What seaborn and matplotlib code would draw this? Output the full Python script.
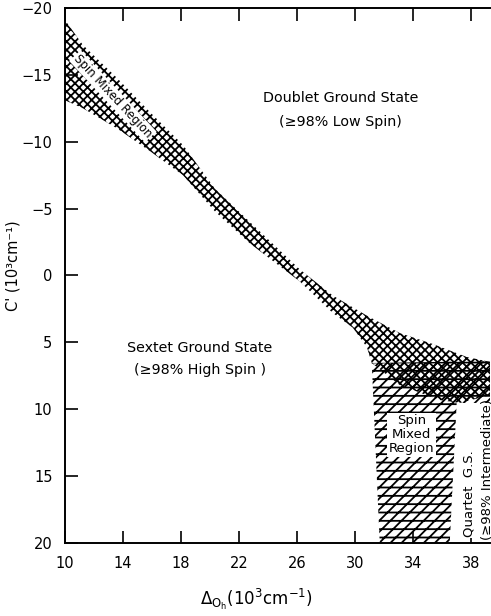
import matplotlib
matplotlib.use("Agg")
import matplotlib.pyplot as plt
import seaborn as sns
import numpy as np

# ---- data ----
x_ticks = [10, 14, 18, 22, 26, 30, 34, 38]
y_ticks = [-20, -15, -10, -5, 0, 5, 10, 15, 20]

# spin-mixed band (Doublet/Sextet crossover), upper edge (doublet side)
band_upper_x = [10.0, 11.24, 13.59, 15.86, 18.14, 20.34, 22.76, 26.21, 28.48, 30.83, 33.10, 35.38, 37.72, 39.38]
band_upper_y = [-19.1, -17.23, -14.77, -12.22, -9.76, -6.5, -4.0, -0.45, 1.5, 3.0, 4.30, 5.12, 6.09, 6.47]
# lower edge (sextet side)
band_lower_x = [10.0, 11.24, 13.59, 15.86, 18.14, 20.34, 22.76, 26.21, 28.48, 29.86, 30.83, 31.17, 33.10, 35.86, 37.24, 39.38]
band_lower_y = [-13.1, -12.5, -11.0, -9.3, -7.5, -4.8, -2.4, 0.45, 2.8, 3.9, 5.35, 6.54, 8.19, 9.31, 9.53, 8.94]

# quartet / sextet spin-mixed region (lower right)
strip_x = [31.17, 39.38, 39.38, 37.03, 36.55, 31.72]
strip_y = [6.54, 6.40, 9.53, 9.53, 20.0, 20.0]

xlim = (10, 39.33)
ylim = (20, -20)

# ---- style ----
sns.set_style("ticks")
plt.rcParams["font.family"] = ["DejaVu Sans"]
plt.rcParams["hatch.linewidth"] = 1.3
plt.rcParams["hatch.color"] = "black"
plt.rcParams["text.color"] = "black"
plt.rcParams["axes.labelcolor"] = "black"

fig = plt.figure(figsize=(4.91, 6.16), dpi=100)
ax = fig.add_axes([65 / 491, 73 / 616, 425 / 491, 535 / 616])

band_x = band_upper_x + band_lower_x[::-1]
band_y = band_upper_y + band_lower_y[::-1]

ax.fill(strip_x, strip_y, facecolor="none", edgecolor="black", hatch="--///", lw=0)
ax.fill(band_x, band_y, facecolor="none", edgecolor="black", hatch="xxxx", lw=0)

ax.set_xlim(*xlim)
ax.set_ylim(*ylim)
ax.set_xticks(x_ticks)
ax.set_yticks(y_ticks)
ax.set_yticklabels([f"{v}" if v >= 0 else f"\u2212{abs(v)}" for v in y_ticks])

ax.tick_params(direction="in", length=9, width=1.2, top=True, right=False,
               labelsize=10.5, colors="black")
ax.tick_params(axis="y", pad=9)
ax.tick_params(axis="x", pad=9)
for s in ["left", "bottom", "top"]:
    ax.spines[s].set_linewidth(1.4)
    ax.spines[s].set_color("black")
ax.spines["right"].set_visible(False)

txt_kw = dict(ha="center", va="center", fontsize=10.3, color="black")
ax.text(29.0, -13.3, "Doublet Ground State", **txt_kw)
ax.text(29.0, -11.5, "(\u226598% Low Spin)", **txt_kw)
ax.text(19.3, 5.4, "Sextet Ground State", **txt_kw)
ax.text(19.3, 7.1, "(\u226598% High Spin )", **txt_kw)

white = dict(facecolor="white", edgecolor="none", pad=1.0)
ax.text(13.3, -13.4, "Spin Mixed Region", rotation=-47, rotation_mode="anchor",
        ha="center", va="center", fontsize=8.5, color="black", bbox=white)
ax.text(33.9, 11.9, "Spin\nMixed\nRegion", ha="center", va="center",
        fontsize=9.5, linespacing=1.1, color="black", bbox=white)
ax.text(37.9, 16.3, "Quartet  G.S.", rotation=90, ha="center", va="center",
        fontsize=9.5, color="black", bbox=white)
ax.text(39.15, 14.5, "(\u226598% Intermediate)", rotation=90, ha="center",
        va="center", fontsize=9.5, color="black", clip_on=False)

ax.set_ylabel("C' (10\u00b3cm\u207b\u00b9)", fontsize=10.5, labelpad=6)
ax.yaxis.set_label_coords(-0.105, 0.518)
ax.set_xlabel(r"$\Delta_{\rm O_h}$(10$^{\rm 3}$cm$^{-1}$)", fontsize=12, labelpad=10)
ax.xaxis.set_label_coords(0.45, -0.082)

fig.savefig("out.png", dpi=100)
